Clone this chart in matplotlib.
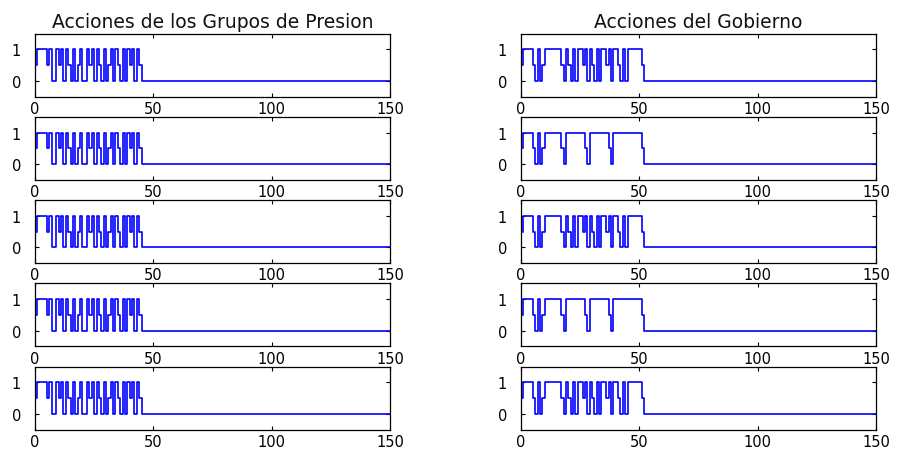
import numpy as np
import matplotlib
matplotlib.use("Agg")
import matplotlib.pyplot as plt

# ---- data (values at integer time steps; zero afterwards up to t = 150) ----
n_steps = 151
titles = ["Acciones de los Grupos de Presion", "Acciones del Gobierno"]

presion = [0.5, 1, 1, 1, 1, 0.5, 1, 0, 0, 1, 0.5, 1, 0, 1, 0.5, 0, 1, 0, 0.5, 1,
           0, 0, 1, 0.5, 1, 0, 1, 0.5, 0, 1, 0, 0.5, 1, 0, 1, 0.5, 0, 1, 0, 1,
           0.5, 1, 0, 1, 0.5, 0]

gobierno_a = [0.5, 1, 1, 1, 1, 0.5, 0, 1, 0, 0.5, 1, 1, 1, 1, 1, 1, 1, 0.5, 0, 1,
              0.5, 0, 1, 0, 1, 1, 0.5, 1, 0, 1, 0.5, 0, 1, 0, 1, 1, 0.5, 1, 0, 1,
              1, 0.5, 0, 1, 0, 1, 1, 1, 1, 1, 1, 0.5, 0]

gobierno_b = [0.5, 1, 1, 1, 1, 0.5, 0, 1, 0, 0.5, 1, 1, 1, 1, 1, 1, 1, 0.5, 0, 1,
              1, 1, 1, 1, 1, 1, 1, 0.5, 0, 1, 1, 1, 1, 1, 1, 1, 1, 0.5, 0, 1,
              1, 1, 1, 1, 1, 1, 1, 1, 1, 1, 1, 0.5, 0]

left_series = [presion, presion, presion, presion, presion]
right_series = [gobierno_a, gobierno_b, gobierno_a, gobierno_b, gobierno_a]

x_ticks = [0, 50, 100, 150]
y_ticks = [0, 1]


def pad(vals):
    out = np.zeros(n_steps)
    out[:len(vals)] = vals
    return out


t = np.arange(n_steps)

W, H = 897, 456
fig = plt.figure(figsize=(W / 100, H / 100), dpi=100)
fig.patch.set_facecolor("white")

font = "DejaVu Sans"
col_left_px = [35, 521]
ax_w_px = 355
ax_h_px = 63
row_top_px = [34.5 + 83.3 * i for i in range(5)]

for c, series in enumerate([left_series, right_series]):
    for r in range(5):
        l = col_left_px[c] / W
        b = 1 - (row_top_px[r] + ax_h_px) / H
        ax = fig.add_axes([l, b, ax_w_px / W, ax_h_px / H])
        ax.plot(t, pad(series[r]), color=(0, 0, 1), lw=1.2,
                drawstyle="steps-post")
        ax.set_xlim(0, 150)
        ax.set_ylim(-0.5, 1.5)
        ax.set_xticks(x_ticks)
        ax.set_yticks(y_ticks)
        ax.set_xticklabels([str(v) for v in x_ticks], fontfamily=font, fontsize=10.5)
        ax.set_yticklabels([str(v) for v in y_ticks], fontfamily=font, fontsize=10.5)
        ax.tick_params(direction="in", length=3, width=0.8, top=True, right=True,
                       pad=3)
        ax.tick_params(axis="y", pad=10)
        for s in ax.spines.values():
            s.set_linewidth(0.9)
            s.set_color("black")
        if r == 0:
            ax.set_title(titles[c], fontfamily=font, fontsize=13.5, pad=5,
                         color="#111111")

fig.savefig("out.png", dpi=100, facecolor="white")
